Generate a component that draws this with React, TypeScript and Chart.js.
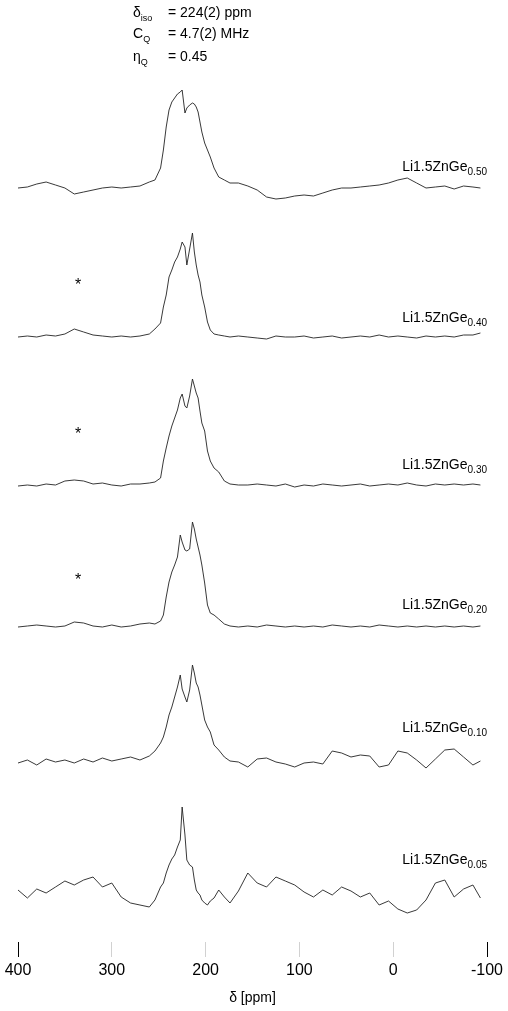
import React, { useEffect, useRef } from "react";
import { Chart, registerables } from "chart.js";

Chart.register(...registerables);

// Chemical shift grid (ppm), shared by all six spectra
const shiftPpm = [
  400, 390, 380, 370, 360, 350, 340, 330, 320, 310, 300, 290, 280, 270, 260, 254,
  248, 245, 242, 239, 236, 233, 230, 227, 225,
  222, 220, 217, 214, 212, 210, 208, 206, 204, 201, 198, 195, 191, 186, 180,
  174, 165, 155, 145, 135, 125, 115, 105, 95, 85, 75, 65, 55, 45,
  35, 25, 15, 5, -5, -15, -25, -35, -45, -55, -65, -75, -85, -93,
];

// Intensities (relative to each trace's own baseline), top trace first
const spectrum1 = [
  0, 1, 4, 6, 3, 0, -6, -4, -2, 0, 1, 0, 1, 2, 6, 8,
  20, 38, 61, 78, 86, 90, 94, 96, 98,
  75, 80, 83, 85, 84, 81, 76, 66, 56, 45, 38, 31, 20, 11, 8,
  5, 5, 2, -2, -9, -11, -10, -8, -7, -8, -5, -2, 0, 0,
  1, 2, 3, 5, 8, 10, 5, 0, 1, 2, -1, 2, 1, 0,
];
const spectrum2 = [
  0, 1, 0, 2, 1, 3, 8, 5, 2, 1, 0, 1, 0, 1, 3, 8,
  14, 30, 42, 60, 67, 75, 80, 88, 95,
  90, 72, 88, 104, 85, 72, 62, 55, 42, 30, 15, 7, 3, 2, 1,
  0, 1, 0, -1, -2, 1, 0, 0, 1, -1, 0, 1, -1, 0,
  1, 0, 2, 0, 1, 0, -1, 1, 0, 1, 0, 2, 2, 4,
];
const spectrum3 = [
  0, 1, 0, 2, 1, 5, 6, 5, 2, 3, 1, 0, 2, 2, 3, 4,
  8, 25, 38, 50, 60, 68, 76, 88, 92,
  80, 78, 90, 107, 100, 93, 88, 75, 63, 55, 35, 25, 18, 14, 5,
  2, 1, 1, 2, 1, 0, 2, -1, 1, 0, 2, 1, 0, 1,
  2, 0, 1, 2, 1, 3, 1, 0, 2, 1, 2, 1, 2, 1,
];
const spectrum4 = [
  0, 1, 2, 1, 0, 1, 5, 4, 1, 0, 2, 0, 1, 3, 4, 3,
  6, 12, 30, 45, 55, 62, 70, 92, 85,
  77, 76, 78, 105, 98, 88, 80, 72, 62, 44, 22, 14, 12, 8, 3,
  1, 0, 1, 0, 2, 1, 0, 1, 0, 1, 0, 2, 1, 0,
  1, 0, 2, 1, 0, 1, 0, 1, 0, 1, 0, 1, 0, 1,
];
const spectrum5 = [
  2, 5, 0, 6, 3, 5, 2, 6, 3, 7, 4, 6, 8, 5, 9, 14,
  22, 28, 38, 50, 58, 68, 78, 90, 76,
  68, 63, 75, 100, 92, 82, 78, 70, 60, 45, 38, 33, 20, 15, 8,
  4, 3, -2, 6, 7, 3, 1, -2, 2, 3, 1, 14, 12, 8,
  10, 9, -2, 0, 14, 12, 5, -3, 6, 15, 16, 8, 0, 4,
];
const spectrum6 = [
  5, -3, 6, 2, 8, 14, 10, 15, 18, 8, 12, -2, -8, -10, -12, -5,
  8, 12, 22, 30, 36, 40, 48, 55, 88,
  60, 35, 30, 28, 15, 5, 2, 0, -5, -8, -10, -6, -3, 5, -2,
  -8, 4, 22, 12, 8, 18, 14, 10, 3, -2, 5, 0, 8, 4,
  -2, 2, -10, -6, -14, -18, -15, -5, 12, 15, -2, 6, 10, -3,
];
const spectra = [spectrum1, spectrum2, spectrum3, spectrum4, spectrum5, spectrum6];

// Stacking offsets of the traces (y units)
const stackOffsets = [754, 605, 456, 315, 177, 47];

// Sample labels
const sampleNames = ["Li1.5ZnGe", "Li1.5ZnGe", "Li1.5ZnGe", "Li1.5ZnGe", "Li1.5ZnGe", "Li1.5ZnGe"];
const sampleSubs = ["0.50", "0.40", "0.30", "0.20", "0.10", "0.05"];
const labelLift = [21, 19, 21, 22, 37, 35];

// Spinning sideband markers
const sidebandPanels = [1, 2, 3];
const sidebandPpm = 336;
const sidebandLift = [54, 54, 49];

// Axis ticks
const tickValues = [400, 300, 200, 100, 0, -100];

// Fit parameters (legend)
const paramSymbols = ["δ", "C", "η"];
const paramSubs = ["iso", "Q", "Q"];
const paramTexts = ["= 224(2) ppm", "= 4.7(2) MHz", "= 0.45"];

const FONT = "'Liberation Sans', Arial, sans-serif";

export default function App() {
  const canvasRef = useRef<HTMLCanvasElement>(null);

  useEffect(() => {
    if (!canvasRef.current) return;
    const annotations = {
      id: "annotations",
      afterDatasetsDraw(chart: any) {
        const { ctx, scales } = chart;
        const xs = scales.x;
        const ys = scales.y;
        ctx.save();
        ctx.fillStyle = "#000";
        // sideband asterisks
        ctx.font = `16px ${FONT}`;
        ctx.textAlign = "center";
        ctx.textBaseline = "middle";
        sidebandPanels.forEach((p, i) => {
          const px = xs.getPixelForValue(sidebandPpm);
          const py = ys.getPixelForValue(stackOffsets[p] + sidebandLift[i]);
          ctx.fillText("*", px, py + 3);
        });
        // sample labels
        const right = xs.getPixelForValue(-100);
        sampleNames.forEach((name, i) => {
          const py = ys.getPixelForValue(stackOffsets[i] + labelLift[i]);
          ctx.font = `14px ${FONT}`;
          const mw = ctx.measureText(name).width;
          ctx.font = `10px ${FONT}`;
          const sw = ctx.measureText(sampleSubs[i]).width;
          const start = right - mw - sw;
          ctx.textAlign = "left";
          ctx.textBaseline = "middle";
          ctx.font = `14px ${FONT}`;
          ctx.fillText(name, start, py);
          ctx.font = `10px ${FONT}`;
          ctx.fillText(sampleSubs[i], start + mw, py + 5);
        });
        ctx.restore();
      },
    };

    const chart = new Chart(canvasRef.current, {
      type: "line",
      data: {
        datasets: spectra.map((vals, i) => ({
          label: sampleNames[i] + sampleSubs[i],
          data: shiftPpm.map((x, j) => ({ x, y: stackOffsets[i] + vals[j] })),
          borderColor: "#222",
          borderWidth: 0.9,
          pointRadius: 0,
          fill: false,
          tension: 0,
        })),
      },
      options: {
        responsive: false,
        animation: false,
        layout: { padding: { top: 70, left: 18, right: 21, bottom: 0 } },
        plugins: { legend: { display: false }, tooltip: { enabled: false } },
        scales: {
          x: {
            type: "linear",
            reverse: true,
            min: -100,
            max: 400,
            afterFit: (s: any) => {
              s.height = 69;
            },
            afterBuildTicks: (s: any) => {
              s.ticks = tickValues.map((v) => ({ value: v }));
            },
            border: { display: false },
            grid: {
              drawOnChartArea: false,
              drawTicks: true,
              tickLength: 15,
              lineWidth: 1,
              color: (c: any) =>
                c.tick && (c.tick.value === 400 || c.tick.value === -100) ? "#000" : "rgba(0,0,0,0.18)",
            },
            ticks: {
              padding: 4,
              color: "#000",
              maxRotation: 0,
              autoSkip: false,
              font: { family: FONT, size: 16 },
              callback: (v: any) => String(v),
            },
            title: {
              display: true,
              text: "δ [ppm]",
              color: "#000",
              font: { family: FONT, size: 14 },
              padding: { top: 4, bottom: 4 },
            },
          },
          y: { display: false, min: 0, max: 872 },
        },
      },
      plugins: [annotations],
    } as any);
    return () => chart.destroy();
  }, []);

  return (
    <div style={{ position: "fixed", left: 0, top: 0, width: 508, height: 1011, background: "#fff" }}>
      <canvas ref={canvasRef} width={508} height={1011} style={{ display: "block" }} />
      {paramSymbols.map((s, i) => (
        <React.Fragment key={i}>
          <div
            style={{
              position: "absolute",
              left: 133,
              top: [4, 25, 48][i],
              font: `14px ${FONT}`,
              lineHeight: "16px",
              color: "#000",
              whiteSpace: "nowrap",
            }}
          >
            {s}
            <sub style={{ fontSize: 9 }}>{paramSubs[i]}</sub>
          </div>
          <div
            style={{
              position: "absolute",
              left: 168,
              top: [4, 25, 48][i],
              font: `14px ${FONT}`,
              lineHeight: "16px",
              color: "#000",
              whiteSpace: "nowrap",
            }}
          >
            {paramTexts[i]}
          </div>
        </React.Fragment>
      ))}
    </div>
  );
}
